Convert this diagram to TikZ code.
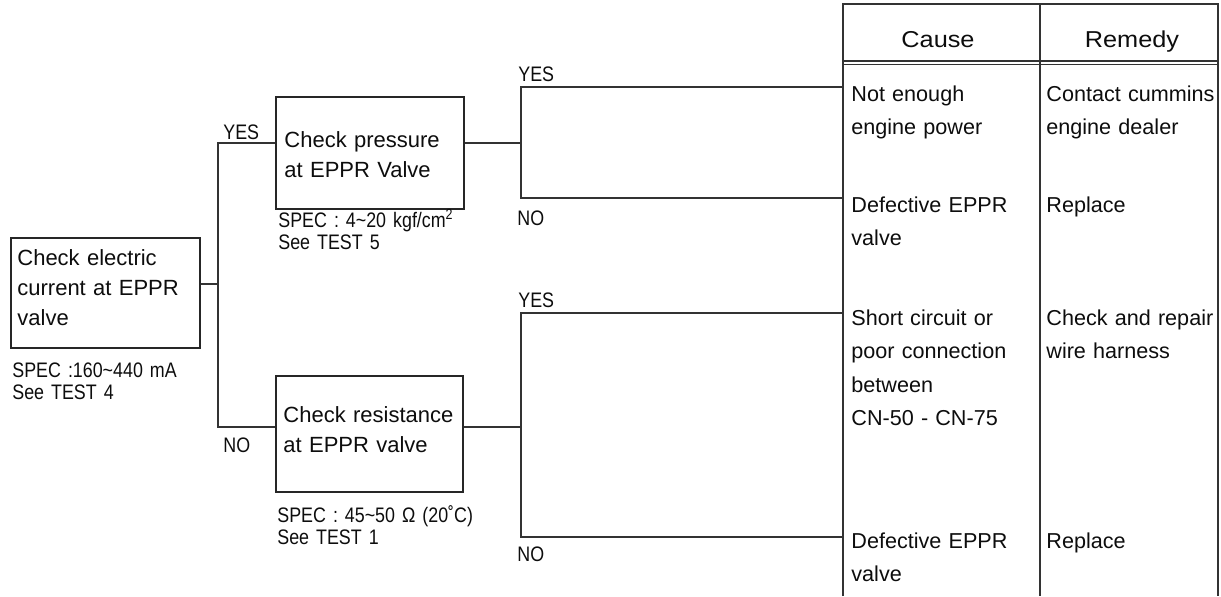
\documentclass[tikz,border=0pt]{standalone}
\usepackage{fontspec}
\setmainfont{Liberation Sans}
\newfontfamily\narrowfont[FakeStretch=0.85]{Liberation Sans}
\newfontfamily\widefont[FakeStretch=1.1]{Liberation Sans}
\usetikzlibrary{positioning}

\tikzset{
    checkbox/.style={draw=black!85, line width=1pt, inner sep=0pt},
    boxtext/.style={anchor=base west, inner sep=0pt, align=left, text width=92pt,
        font=\fontsize{11}{15}\selectfont},
    spectext/.style={anchor=base west, inner sep=0pt, align=left, text width=110pt,
        font=\narrowfont\fontsize{10.5}{11.2}\selectfont},
    answer/.style={anchor=base west, inner sep=0pt,
        font=\narrowfont\fontsize{10.5}{11.2}\selectfont},
    cell/.style={anchor=base west, inner sep=0pt, align=left, text width=92pt,
        font=\fontsize{10.8}{16.75}\selectfont},
    head/.style={anchor=base, inner sep=0pt, font=\widefont\fontsize{11.5}{13}\selectfont},
    wire/.style={draw=black!80, line width=0.75pt},
    rule/.style={draw=black!80, line width=0.8pt},
}

\begin{document}
\begin{tikzpicture}[x=0.5pt, y=-0.5pt, every node/.style={text=black!95}]
\useasboundingbox (0,0) rectangle (1221,596);

% =============================================================================
% Check boxes
% =============================================================================
\node[checkbox, minimum width=94.5pt, minimum height=55pt] (elec) at (105.5,293) {};
\node[boxtext] (electxt) at (17,265) {Check electric\\current at EPPR\\valve};
\node[spectext] (elecspec) at (12,377) {SPEC :160\textasciitilde440 mA\\See TEST 4};

\node[checkbox, minimum width=94pt, minimum height=56pt] (press) at (370,153) {};
\node[boxtext] (presstxt) at (284,147) {Check pressure\\at EPPR Valve};
\node[spectext] (pressspec) at (278,227) {SPEC : 4\textasciitilde20 kgf/cm\textsuperscript{2}\\See TEST 5};

\node[checkbox, minimum width=93.5pt, minimum height=58pt] (resist) at (369.5,434) {};
\node[boxtext] (resisttxt) at (283,422) {Check resistance\\at EPPR valve};
\node[spectext] (resistspec) at (277,522) {SPEC : 45\textasciitilde50 Ω (20˚C)\\See TEST 1};

% =============================================================================
% Branches
% =============================================================================
\coordinate (tbl) at (843,4);

% first split
\coordinate (elecmid) at (218,284);
\coordinate (elecyes) at (218,143);
\coordinate (elecno) at (218,427);
\draw[wire] (elec.east |- elecmid) -- (elecmid);
\draw[wire] (press.west |- elecyes) -- (elecyes) -- (elecno) -- (resist.west |- elecno);
\node[answer] (yes1) at (223,139) {YES};
\node[answer] (no1) at (223,452) {NO};

% pressure split
\coordinate (pressmid) at (521,143);
\coordinate (pressyes) at (521,87);
\coordinate (pressno) at (521,198);
\draw[wire] (press.east |- pressmid) -- (pressmid);
\draw[wire] (tbl |- pressyes) -- (pressyes) -- (pressno) -- (tbl |- pressno);
\node[answer] (yes2) at (518,81) {YES};
\node[answer] (no2) at (517,225) {NO};

% resistance split
\coordinate (resistmid) at (521,427);
\coordinate (resistyes) at (521,313);
\coordinate (resistno) at (521,537);
\draw[wire] (resist.east |- resistmid) -- (resistmid);
\draw[wire] (tbl |- resistyes) -- (resistyes) -- (resistno) -- (tbl |- resistno);
\node[answer] (yes3) at (518,307) {YES};
\node[answer] (no3) at (517,561) {NO};

% =============================================================================
% Cause / Remedy table
% =============================================================================
\draw[rule] (843,596) -- (tbl) -- (1218,4) -- (1218,596);
\draw[rule] (1040,4) -- (1040,596);
\draw[rule] (843,61) -- (1218,61);
\draw[rule] (843,64.5) -- (1218,64.5);

\node[head] (cause) at (938,47) {Cause};
\node[head] (remedy) at (1132,47) {Remedy};

\node[cell] (cause1) at (851,101) {Not enough\\engine power};
\node[cell] (remedy1) at (1046,101) {Contact cummins\\engine dealer};
\node[cell] (cause2) at (851,212) {Defective EPPR\\valve};
\node[cell] (remedy2) at (1046,212) {Replace};
\node[cell] (cause3) at (851,325) {Short circuit or\\poor connection\\between\\CN-50 - CN-75};
\node[cell] (remedy3) at (1046,325) {Check and repair\\wire harness};
\node[cell] (cause4) at (851,548) {Defective EPPR\\valve};
\node[cell] (remedy4) at (1046,548) {Replace};

\end{tikzpicture}
\end{document}
